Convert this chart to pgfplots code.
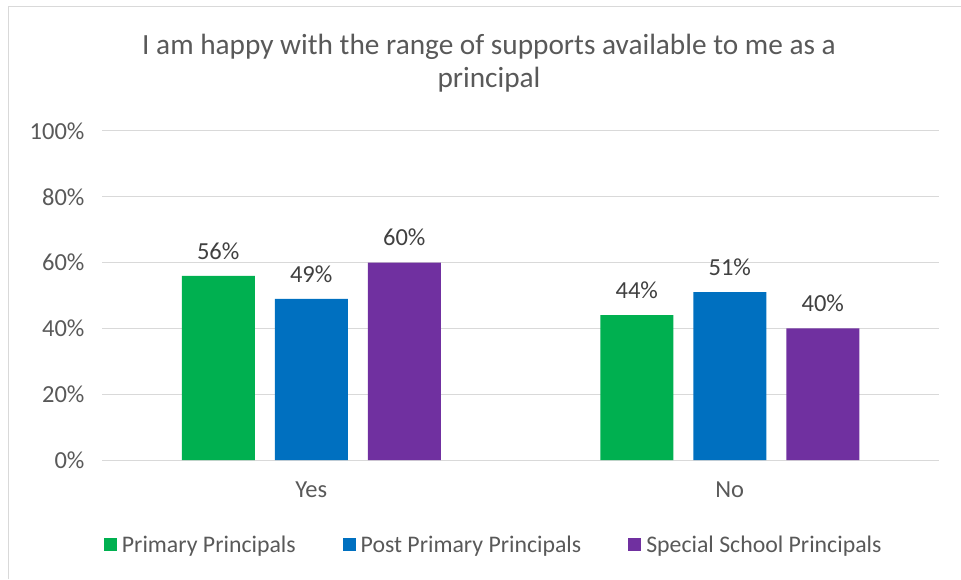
\documentclass[border=0pt]{standalone}
\usepackage{pgfplots}
\pgfplotsset{compat=1.18}
\usepackage{fontspec}
\setmainfont{Carlito}
\definecolor{txt}{HTML}{595959}
\definecolor{dtxt}{HTML}{404040}
\definecolor{grd}{HTML}{D9D9D9}
\definecolor{cgreen}{HTML}{00B050}
\definecolor{cblue}{HTML}{0070C0}
\definecolor{cpurple}{HTML}{7030A0}
\pgfplotsset{sqlegend/.style={legend image code/.code={\fill[##1] (0pt,-6.5pt) rectangle (13pt,6.5pt); \path (16pt,0pt);}}}
\begin{document}
\begin{tikzpicture}
\useasboundingbox (0,0) rectangle (961pt,579pt);
\draw[grd, line width=1pt] (8.5pt,0) -- (8.5pt,572.5pt) -- (961pt,572.5pt);
\node[anchor=base, text=txt, font=\fontsize{29.3}{33}\selectfont] at (489pt,524pt) {I am happy with the range of supports available to me as a};
\node[anchor=base, text=txt, font=\fontsize{29.3}{33}\selectfont] at (489pt,491pt) {principal};
\begin{axis}[
  at={(102pt,119pt)}, anchor=south west,
  scale only axis, width=837pt, height=329pt,
  xmin=-0.5, xmax=1.5, ymin=0, ymax=100,
  ybar=20pt, bar width=73pt,
  axis line style={draw=none},
  major tick length=0pt,
  ymajorgrids, grid style={grd, line width=1pt},
  ytick={0,20,40,60,80,100},
  yticklabels={0\%,20\%,40\%,60\%,80\%,100\%},
  xtick={0,1}, xticklabels={Yes,No},
  ticklabel style={text=txt, font=\fontsize{24.5}{28}\selectfont},
  yticklabel style={xshift=-14pt},
  xticklabel style={yshift=-18pt},
  /pgf/number format/assume math mode=true,
  nodes near coords={\pgfmathprintnumber{\pgfplotspointmeta}\%},
  every node near coord/.append style={text=dtxt, font=\fontsize{24.5}{28}\selectfont, yshift=13pt},
  legend columns=3,
  legend style={at={(0.468,-0.258)}, anchor=center, draw=none, fill=none,
    font=\fontsize{23.8}{27}\selectfont, text=txt,
    /tikz/every even column/.append style={column sep=45pt}},
  clip=false,
]
\addplot[fill=cgreen, draw=none, sqlegend] coordinates {(0,56) (1,44)};
\addplot[fill=cblue, draw=none, sqlegend] coordinates {(0,49) (1,51)};
\addplot[fill=cpurple, draw=none, sqlegend] coordinates {(0,60) (1,40)};
\legend{Primary Principals, Post Primary Principals, Special School Principals}
\end{axis}
\end{tikzpicture}
\end{document}
